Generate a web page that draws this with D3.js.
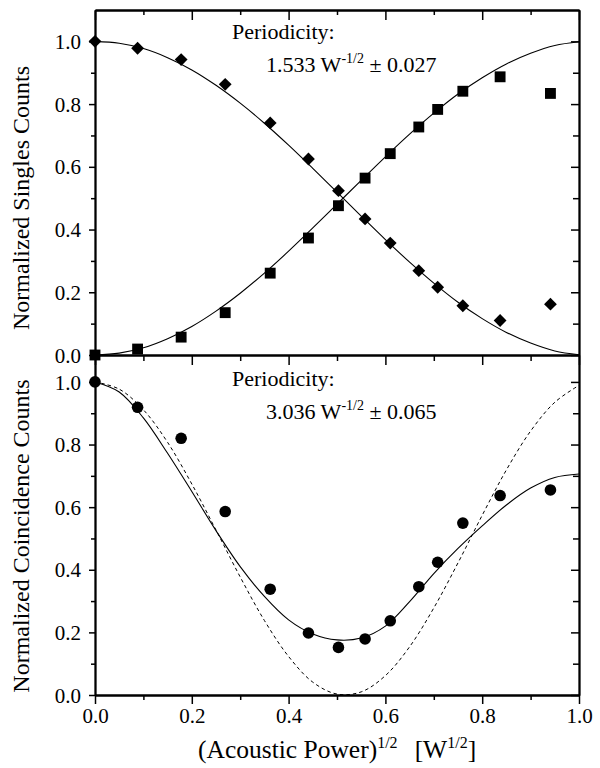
<!DOCTYPE html>
<meta charset="utf-8">
<style>
	body { margin: 0; padding: 0; background: #fff; }
	svg { display: block; }
	text { font-family: 'Liberation Serif', 'DejaVu Serif', 'Noto Serif', serif; fill: #000; }
	.fit { fill: none; stroke: #000; stroke-width: 1.1px; }
	.dash { fill: none; stroke: #000; stroke-width: 1px; stroke-dasharray: 3.5,3; }
</style>
<body>
<svg class="chart"></svg>
<script src="https://cdnjs.cloudflare.com/ajax/libs/d3/7.8.5/d3.min.js"></script>
<script>

// measured points, x = (acoustic power)^1/2
var powerRoot = [0, 0.088, 0.178, 0.269, 0.362, 0.441, 0.503, 0.558, 0.610, 0.669, 0.708, 0.760, 0.837, 0.941];
var singlesDiamond = [1.000, 0.978, 0.942, 0.863, 0.740, 0.625, 0.524, 0.434, 0.357, 0.269, 0.216, 0.157, 0.110, 0.162];
var singlesSquare = [0.000, 0.019, 0.057, 0.135, 0.261, 0.373, 0.476, 0.564, 0.642, 0.727, 0.783, 0.841, 0.887, 0.834];
var coincidence = [1.000, 0.919, 0.820, 0.586, 0.338, 0.198, 0.152, 0.179, 0.237, 0.346, 0.424, 0.549, 0.637, 0.655];

// fit curves
var fitX = [0, 0.05, 0.10, 0.15, 0.20, 0.25, 0.30, 0.35, 0.40, 0.45, 0.50, 0.55, 0.60, 0.65, 0.70, 0.75, 0.80, 0.85, 0.90, 0.95, 1.00];
var fitDiamond = [1.000, 0.994, 0.977, 0.948, 0.909, 0.860, 0.803, 0.739, 0.669, 0.595, 0.519, 0.443, 0.368, 0.296, 0.229, 0.168, 0.116, 0.072, 0.038, 0.013, 0.001];
var fitSquare = [0.000, 0.006, 0.023, 0.052, 0.091, 0.140, 0.197, 0.261, 0.331, 0.405, 0.481, 0.557, 0.632, 0.704, 0.771, 0.832, 0.884, 0.928, 0.962, 0.987, 0.999];
var fitCoinc = [1.000, 0.968, 0.885, 0.772, 0.650, 0.525, 0.410, 0.315, 0.240, 0.195, 0.176, 0.182, 0.220, 0.298, 0.388, 0.468, 0.540, 0.607, 0.661, 0.695, 0.706];
var idealCoinc = [1.000, 0.977, 0.911, 0.807, 0.674, 0.527, 0.377, 0.238, 0.123, 0.041, 0.003, 0.010, 0.062, 0.154, 0.278, 0.422, 0.574, 0.719, 0.843, 0.935, 0.989];

var majorTicks = [0, 0.2, 0.4, 0.6, 0.8, 1.0];
var minorTicks = [0.1, 0.3, 0.5, 0.7, 0.9];
var tickLabels = ["0.0", "0.2", "0.4", "0.6", "0.8", "1.0"];

var width = 600, height = 768;

var svg = d3.select(".chart")
    .attr("width", width)
    .attr("height", height);

svg.append("rect").attr("width", width).attr("height", height).attr("fill", "#fff");

var x = d3.scaleLinear().domain([0, 1]).range([95, 579]);
var yTop = d3.scaleLinear().domain([0, 1.1]).range([355, 10]);
var yBot = d3.scaleLinear().domain([0, 1.086]).range([695, 355]);

function styleAxis(g) {
	g.attr("font-family", null);
	g.select(".domain").attr("stroke", "#000").attr("stroke-width", 1.8);
	g.selectAll(".tick line").attr("stroke", "#000").attr("stroke-width", 1.5);
	g.selectAll(".tick text")
	    .attr("font-size", 21)
	    .attr("fill", "#000");
}

function fmt(d) { return tickLabels[majorTicks.indexOf(d)]; }

function drawPanel(y, top) {
	// left, labelled
	svg.append("g").attr("transform", "translate(" + x(0) + ",0)")
	    .call(d3.axisLeft(y).tickValues(majorTicks).tickSize(6).tickSizeOuter(0).tickPadding(8).tickFormat(fmt))
	    .call(styleAxis)
	    .selectAll(".tick text").attr("dy", "0.34em");
	svg.append("g").attr("transform", "translate(" + x(0) + ",0)")
	    .call(d3.axisLeft(y).tickValues(minorTicks).tickSize(4).tickSizeOuter(0).tickFormat(""))
	    .call(styleAxis);
	// right, inward
	svg.append("g").attr("transform", "translate(" + x(1) + ",0)")
	    .call(d3.axisRight(y).tickValues(majorTicks).tickSize(-8).tickSizeOuter(0).tickFormat(""))
	    .call(styleAxis);
	svg.append("g").attr("transform", "translate(" + x(1) + ",0)")
	    .call(d3.axisRight(y).tickValues(minorTicks).tickSize(-6).tickSizeOuter(0).tickFormat(""))
	    .call(styleAxis);
	if (top) {
		svg.append("g").attr("transform", "translate(0," + y.range()[1] + ")")
		    .call(d3.axisTop(x).tickValues(majorTicks).tickSize(-10).tickSizeOuter(0).tickFormat(""))
		    .call(styleAxis);
		svg.append("g").attr("transform", "translate(0," + y.range()[1] + ")")
		    .call(d3.axisTop(x).tickValues(minorTicks).tickSize(-5).tickSizeOuter(0).tickFormat(""))
		    .call(styleAxis);
	}
}

drawPanel(yTop, true);
drawPanel(yBot, false);

// shared line between panels, ticks pointing down
svg.append("g").attr("transform", "translate(0," + yTop(0) + ")")
    .call(d3.axisBottom(x).tickValues(majorTicks).tickSize(10).tickSizeOuter(0).tickFormat(""))
    .call(styleAxis);
svg.append("g").attr("transform", "translate(0," + yTop(0) + ")")
    .call(d3.axisBottom(x).tickValues(minorTicks).tickSize(6).tickSizeOuter(0).tickFormat(""))
    .call(styleAxis);

// bottom x axis, labelled
svg.append("g").attr("transform", "translate(0," + yBot(0) + ")")
    .call(d3.axisBottom(x).tickValues(majorTicks).tickSize(9).tickSizeOuter(0).tickPadding(4).tickFormat(fmt))
    .call(styleAxis);
svg.append("g").attr("transform", "translate(0," + yBot(0) + ")")
    .call(d3.axisBottom(x).tickValues(minorTicks).tickSize(5).tickSizeOuter(0).tickFormat(""))
    .call(styleAxis);

// fit curves
var fitTop = d3.line().curve(d3.curveCatmullRom)
    .x(function(d, i) { return x(fitX[i]); })
    .y(function(d) { return yTop(d); });
var fitBot = d3.line().curve(d3.curveCatmullRom)
    .x(function(d, i) { return x(fitX[i]); })
    .y(function(d) { return yBot(d); });

svg.append("path").datum(fitDiamond).attr("class", "fit").attr("d", fitTop);
svg.append("path").datum(fitSquare).attr("class", "fit").attr("d", fitTop);
svg.append("path").datum(idealCoinc).attr("class", "dash").attr("d", fitBot);
svg.append("path").datum(fitCoinc).attr("class", "fit").attr("d", fitBot);

// markers
var diamond = d3.symbol().type(d3.symbolSquare).size(82);
var square = d3.symbol().type(d3.symbolSquare).size(118);

svg.selectAll(".diamond")
    .data(singlesDiamond)
  .enter().append("path")
    .attr("class", "diamond")
    .attr("d", diamond)
    .attr("transform", function(d, i) { return "translate(" + x(powerRoot[i]) + "," + yTop(d) + ") rotate(45)"; });

svg.selectAll(".square")
    .data(singlesSquare)
  .enter().append("path")
    .attr("class", "square")
    .attr("d", square)
    .attr("transform", function(d, i) { return "translate(" + x(powerRoot[i]) + "," + yTop(d) + ")"; });

svg.selectAll(".dot")
    .data(coincidence)
  .enter().append("circle")
    .attr("class", "dot")
    .attr("r", 5.8)
    .attr("cx", function(d, i) { return x(powerRoot[i]); })
    .attr("cy", function(d) { return yBot(d); });

// annotations
function periodicity(yBase, value, err) {
	svg.append("text").attr("x", 232).attr("y", yBase).attr("font-size", 22).text("Periodicity:");
	var t = svg.append("text").attr("x", 266).attr("y", yBase + 33).attr("font-size", 22);
	t.append("tspan").text(value + " W");
	t.append("tspan").attr("font-size", 14).attr("dy", -9).text("-1/2");
	t.append("tspan").attr("dy", 9).text(" \u00b1 " + err);
}
periodicity(39, "1.533", "0.027");
periodicity(386, "3.036", "0.065");

// axis titles
svg.append("text")
    .attr("transform", "translate(29,198) rotate(-90)")
    .attr("text-anchor", "middle")
    .attr("font-size", 24)
    .text("Normalized Singles Counts");
svg.append("text")
    .attr("transform", "translate(29,536) rotate(-90)")
    .attr("text-anchor", "middle")
    .attr("font-size", 24)
    .text("Normalized Coincidence Counts");

var xt = svg.append("text").attr("x", 198).attr("y", 758).attr("font-size", 25.5);
xt.append("tspan").text("(Acoustic Power)");
xt.append("tspan").attr("font-size", 16).attr("dy", -10).text("1/2");
xt.append("tspan").attr("dy", 10).attr("dx", 17).text("[W");
xt.append("tspan").attr("font-size", 16).attr("dy", -10).text("1/2");
xt.append("tspan").attr("dy", 10).text("]");

</script>
</body>
